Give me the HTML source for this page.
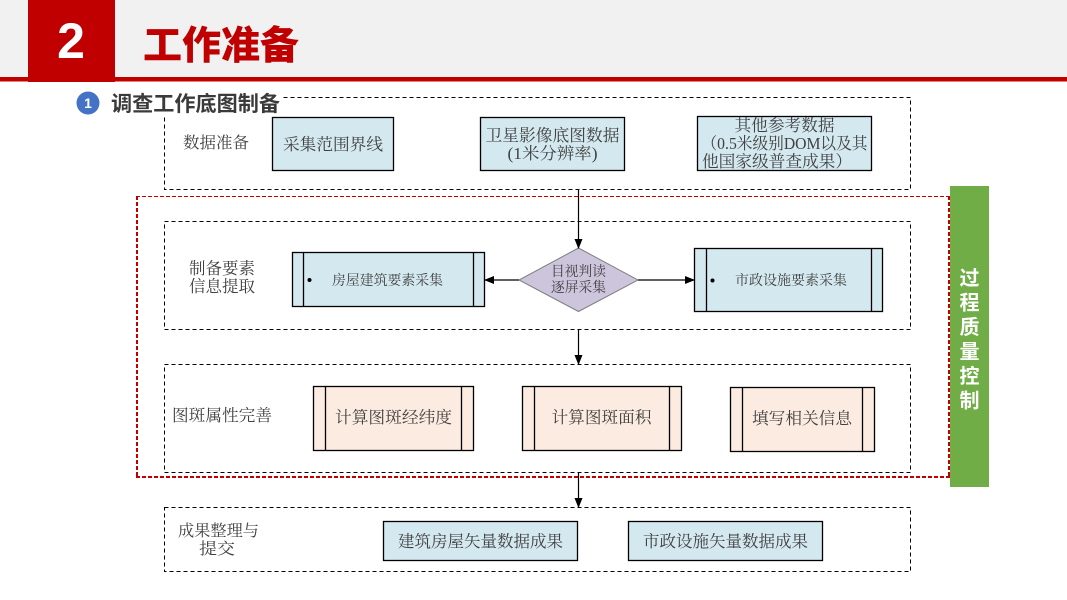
<!DOCTYPE html>
<html>
<head>
<meta charset="utf-8">
<style>
html,body{margin:0;padding:0;background:#fff;}
body{width:1067px;height:600px;position:relative;overflow:hidden;}
svg{position:absolute;left:0;top:0;}
.serif{font-family:"Liberation Serif","Noto Serif CJK SC",serif;fill:#404040;}
.sans{font-family:"Liberation Sans","Noto Sans CJK SC",sans-serif;}
</style>
</head>
<body>
<svg width="1067" height="600" viewBox="0 0 1067 600" xmlns="http://www.w3.org/2000/svg">
  <defs>
    <marker id="ah" markerWidth="10" markerHeight="8" refX="9" refY="4" orient="auto" markerUnits="userSpaceOnUse">
      <path d="M0,0 L10,4 L0,8 z" fill="#000"/>
    </marker>
  </defs>

  <!-- Header -->
  <rect x="0" y="0" width="1067" height="78" fill="#f1f1f1"/>
  <rect x="0" y="77" width="1067" height="4.5" fill="#c00000"/>
  <rect x="28" y="0" width="87" height="82" fill="#c00000"/>
  <text x="71" y="58" text-anchor="middle" class="sans" font-size="50" font-weight="bold" fill="#fff">2</text>
  <text x="143" y="59" class="sans" font-size="39" font-weight="900" fill="#c00000" textLength="156" lengthAdjust="spacingAndGlyphs">工作准备</text>

  <!-- Section 1 dashed box -->
  <rect x="164.5" y="97.5" width="746" height="92" fill="none" stroke="#000" stroke-width="1" stroke-dasharray="4,3"/>

  <!-- subtitle with white background -->
  <rect x="100" y="90" width="182" height="25" fill="#fff"/>
  <circle cx="88" cy="103" r="11.5" fill="#4472c4"/>
  <text x="88" y="108" text-anchor="middle" class="sans" font-size="14" font-weight="bold" fill="#fff">1</text>
  <text x="111" y="111" class="sans" font-size="21" font-weight="bold" fill="#3a3a3a" textLength="169" lengthAdjust="spacingAndGlyphs">调查工作底图制备</text>

  <text x="183" y="148" class="serif" font-size="16" textLength="66" lengthAdjust="spacingAndGlyphs">数据准备</text>

  <rect x="272.5" y="117.5" width="121" height="53" fill="#d4e9ef" stroke="#000" stroke-width="1.3"/>
  <text x="333" y="150" text-anchor="middle" class="serif" font-size="16.5" textLength="100" lengthAdjust="spacingAndGlyphs">采集范围界线</text>

  <rect x="480.5" y="117.5" width="144" height="53" fill="#d4e9ef" stroke="#000" stroke-width="1.3"/>
  <text x="552.5" y="141" text-anchor="middle" class="serif" font-size="16.5" textLength="134" lengthAdjust="spacingAndGlyphs">卫星影像底图数据</text>
  <text x="552.5" y="159" text-anchor="middle" class="serif" font-size="16.5" textLength="90" lengthAdjust="spacingAndGlyphs">(1米分辨率)</text>

  <rect x="697.5" y="116.5" width="174" height="54" fill="#d4e9ef" stroke="#000" stroke-width="1.3"/>
  <text x="784.5" y="131" text-anchor="middle" class="serif" font-size="16.5" textLength="100" lengthAdjust="spacingAndGlyphs">其他参考数据</text>
  <text x="784.5" y="149" text-anchor="middle" class="serif" font-size="16.5" textLength="166" lengthAdjust="spacingAndGlyphs">（0.5米级别DOM以及其</text>
  <text x="777" y="167" text-anchor="middle" class="serif" font-size="16.5" textLength="150" lengthAdjust="spacingAndGlyphs">他国家级普查成果）</text>

  <!-- Red dashed quality control frame -->
  <line x1="136" y1="196.5" x2="949" y2="196.5" stroke="#c00000" stroke-width="1" stroke-dasharray="4,2"/>
  <line x1="137" y1="196" x2="137" y2="477" stroke="#c00000" stroke-width="2" stroke-dasharray="4,2"/>
  <line x1="136" y1="477" x2="950" y2="477" stroke="#c00000" stroke-width="2" stroke-dasharray="4,2"/>
  <line x1="949" y1="196" x2="949" y2="477" stroke="#c00000" stroke-width="2" stroke-dasharray="4,2"/>

  <!-- Green bar -->
  <rect x="950" y="186" width="39" height="301" fill="#70ad47"/>
  <g class="sans" font-size="20" font-weight="bold" fill="#fff" text-anchor="middle">
    <text x="969.5" y="285">过</text>
    <text x="969.5" y="309.5">程</text>
    <text x="969.5" y="334">质</text>
    <text x="969.5" y="358.5">量</text>
    <text x="969.5" y="383">控</text>
    <text x="969.5" y="407.5">制</text>
  </g>

  <!-- Section 2 -->
  <rect x="164.5" y="221.5" width="746" height="108" fill="none" stroke="#000" stroke-width="1" stroke-dasharray="4,3"/>
  <text x="189" y="274" class="serif" font-size="16.5" textLength="66" lengthAdjust="spacingAndGlyphs">制备要素</text>
  <text x="189" y="292" class="serif" font-size="16.5" textLength="66" lengthAdjust="spacingAndGlyphs">信息提取</text>

  <rect x="292.5" y="252.5" width="192" height="54" fill="#d4e9ef" stroke="#000" stroke-width="1.3"/>
  <line x1="303.5" y1="252.5" x2="303.5" y2="306.5" stroke="#000" stroke-width="1.3"/>
  <line x1="473.5" y1="252.5" x2="473.5" y2="306.5" stroke="#000" stroke-width="1.3"/>
  <circle cx="309.5" cy="280" r="2" fill="#000"/>
  <text x="332" y="285" class="serif" font-size="14" textLength="111" lengthAdjust="spacingAndGlyphs">房屋建筑要素采集</text>

  <polygon points="578.5,248 638,280 578.5,311.5 519,280" fill="#cdc5dc" stroke="#7f7f7f" stroke-width="1"/>
  <text x="578.5" y="276" text-anchor="middle" class="serif" font-size="14" textLength="55" lengthAdjust="spacingAndGlyphs">目视判读</text>
  <text x="578.5" y="292" text-anchor="middle" class="serif" font-size="14" textLength="55" lengthAdjust="spacingAndGlyphs">逐屏采集</text>

  <rect x="694.5" y="248.5" width="188" height="63" fill="#d4e9ef" stroke="#000" stroke-width="1.3"/>
  <line x1="706.5" y1="248.5" x2="706.5" y2="311.5" stroke="#000" stroke-width="1.3"/>
  <line x1="871.5" y1="248.5" x2="871.5" y2="311.5" stroke="#000" stroke-width="1.3"/>
  <circle cx="712.5" cy="280.5" r="2" fill="#000"/>
  <text x="735" y="285" class="serif" font-size="14" textLength="112" lengthAdjust="spacingAndGlyphs">市政设施要素采集</text>

  <!-- connectors -->
  <line x1="578.5" y1="190" x2="578.5" y2="248" stroke="#000" stroke-width="1.2" marker-end="url(#ah)"/>
  <line x1="519" y1="280" x2="485" y2="280" stroke="#000" stroke-width="1.2" marker-end="url(#ah)"/>
  <line x1="638" y1="280" x2="694" y2="280" stroke="#000" stroke-width="1.2" marker-end="url(#ah)"/>
  <line x1="578.5" y1="330" x2="578.5" y2="364" stroke="#000" stroke-width="1.2" marker-end="url(#ah)"/>
  <line x1="578.5" y1="473" x2="578.5" y2="507" stroke="#000" stroke-width="1.2" marker-end="url(#ah)"/>

  <!-- Section 3 -->
  <rect x="164.5" y="364.5" width="746" height="108" fill="none" stroke="#000" stroke-width="1" stroke-dasharray="4,3"/>
  <text x="172" y="421" class="serif" font-size="16.5" textLength="100" lengthAdjust="spacingAndGlyphs">图斑属性完善</text>

  <rect x="313.5" y="386.5" width="160" height="64" fill="#fcebe0" stroke="#000" stroke-width="1.3"/>
  <line x1="325.5" y1="386.5" x2="325.5" y2="450.5" stroke="#000" stroke-width="1.3"/>
  <line x1="461.5" y1="386.5" x2="461.5" y2="450.5" stroke="#000" stroke-width="1.3"/>
  <text x="393.5" y="423" text-anchor="middle" class="serif" font-size="16.5" textLength="117" lengthAdjust="spacingAndGlyphs">计算图斑经纬度</text>

  <rect x="522.5" y="386.5" width="159" height="64" fill="#fcebe0" stroke="#000" stroke-width="1.3"/>
  <line x1="534.5" y1="386.5" x2="534.5" y2="450.5" stroke="#000" stroke-width="1.3"/>
  <line x1="669.5" y1="386.5" x2="669.5" y2="450.5" stroke="#000" stroke-width="1.3"/>
  <text x="601.5" y="423" text-anchor="middle" class="serif" font-size="16.5" textLength="100" lengthAdjust="spacingAndGlyphs">计算图斑面积</text>

  <rect x="730.5" y="387.5" width="144" height="64" fill="#fcebe0" stroke="#000" stroke-width="1.3"/>
  <line x1="742.5" y1="387.5" x2="742.5" y2="451.5" stroke="#000" stroke-width="1.3"/>
  <line x1="862.5" y1="387.5" x2="862.5" y2="451.5" stroke="#000" stroke-width="1.3"/>
  <text x="802" y="424" text-anchor="middle" class="serif" font-size="16.5" textLength="100" lengthAdjust="spacingAndGlyphs">填写相关信息</text>

  <!-- Section 4 -->
  <rect x="164.5" y="507.5" width="746" height="64" fill="none" stroke="#000" stroke-width="1" stroke-dasharray="4,3"/>
  <text x="178" y="536" class="serif" font-size="16" textLength="81" lengthAdjust="spacingAndGlyphs">成果整理与</text>
  <text x="199" y="554" class="serif" font-size="16" textLength="36" lengthAdjust="spacingAndGlyphs">提交</text>

  <rect x="383.5" y="521.5" width="194" height="39" fill="#d4e9ef" stroke="#000" stroke-width="1.3"/>
  <text x="480.5" y="547" text-anchor="middle" class="serif" font-size="16.5" textLength="165" lengthAdjust="spacingAndGlyphs">建筑房屋矢量数据成果</text>

  <rect x="628.5" y="521.5" width="194" height="39" fill="#d4e9ef" stroke="#000" stroke-width="1.3"/>
  <text x="725.5" y="547" text-anchor="middle" class="serif" font-size="16.5" textLength="165" lengthAdjust="spacingAndGlyphs">市政设施矢量数据成果</text>
</svg>
</body>
</html>
